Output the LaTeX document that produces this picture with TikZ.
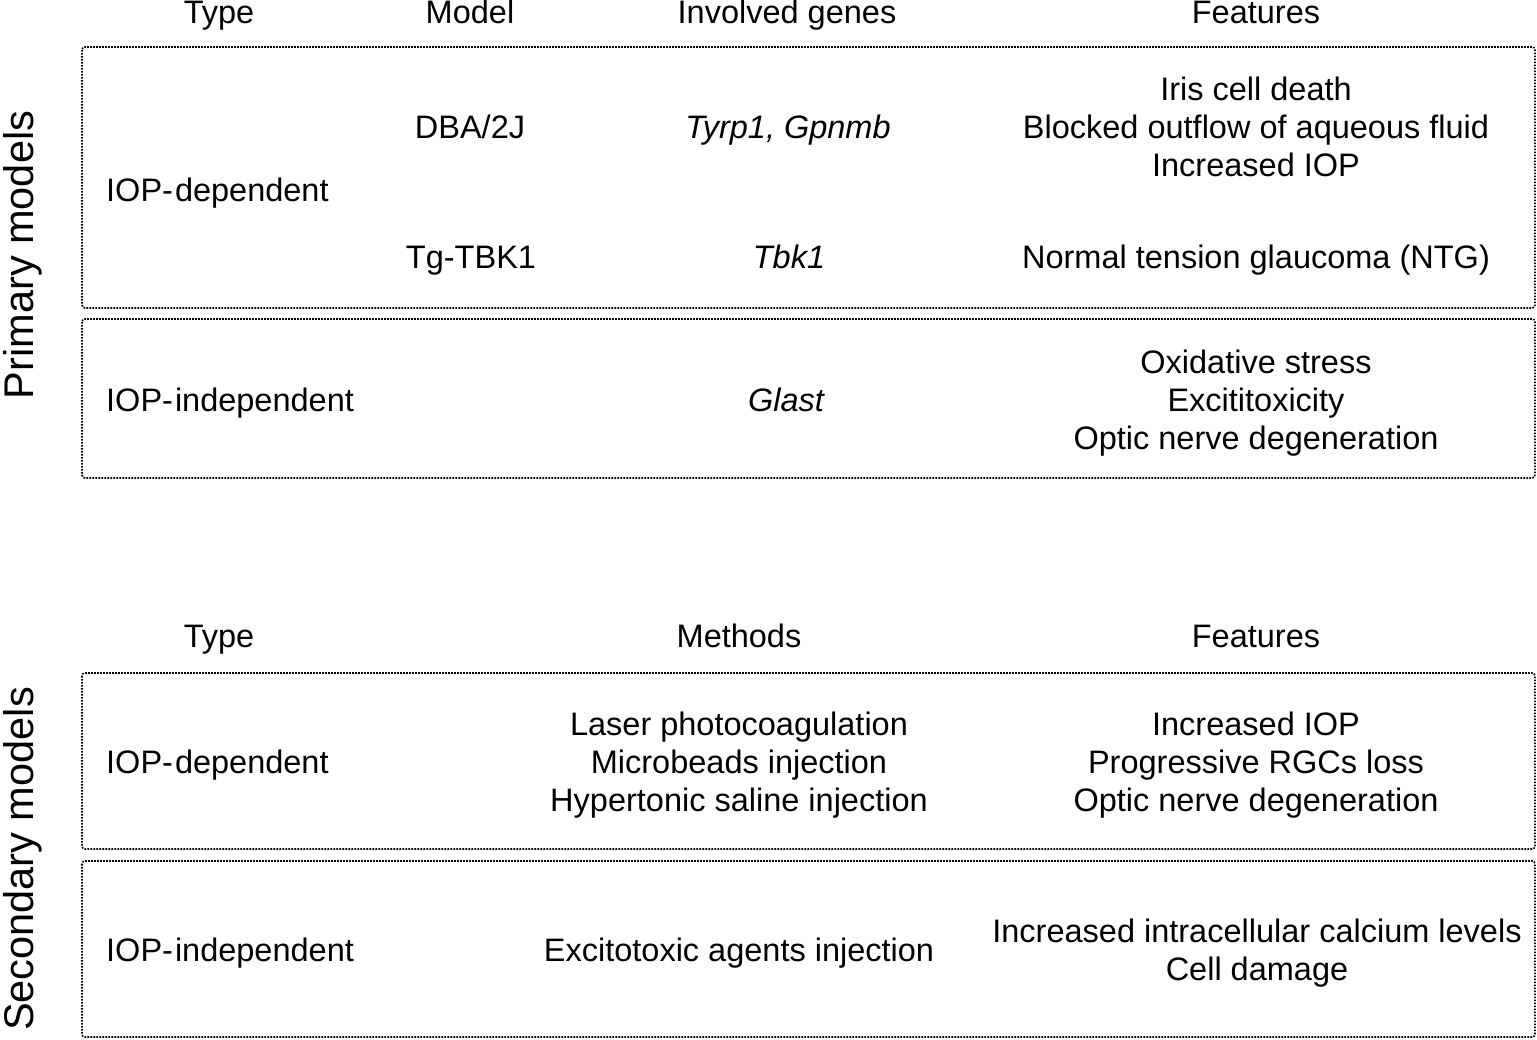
\documentclass[tikz,border=0pt]{standalone}
\usepackage{fontspec}
\setmainfont{Liberation Sans}
\begin{document}
\begin{tikzpicture}[x=1pt,y=-1pt,
  txt/.style={inner sep=0pt,anchor=base,font=\fontsize{32.5}{38}\selectfont},
  ltxt/.style={txt,anchor=base west},
  side/.style={inner sep=0pt,anchor=base,rotate=90,font=\fontsize{41.5}{48}\selectfont},
  dbox/.style={draw=black,line width=1.6pt,dash pattern=on 1.7pt off 1.3pt,rounded corners=3pt}]
\useasboundingbox (0,0) rectangle (1537,1039);
% boxes
\draw[dbox] (82,47) rectangle (1535,308);
\draw[dbox] (82,319) rectangle (1535,478);
\draw[dbox] (82,673) rectangle (1535,849);
\draw[dbox] (82,861) rectangle (1535,1037);
% side labels
\node[side] (prim) at (33,255) {Primary models};
\node[side] (sec) at (33,859) {Secondary models};
% header 1
\node[txt] (h1a) at (219,23) {Type};
\node[txt] (h1b) at (470,23) {Model};
\node[txt] (h1c) at (787,23) {Involved genes};
\node[txt] (h1d) at (1256,23) {Features};
% primary IOP-dependent
\node[ltxt] (p1t) at (106,201) {IOP-\kern2pt dependent};
\node[txt] (p1m) at (470,138) {DBA/2J};
\node[txt] (p1g) at (788,138) {\itshape Tyrp1, Gpnmb};
\node[txt] (p1f1) at (1256,100) {Iris cell death};
\node[txt] (p1f2) at (1256,138) {Blocked outflow of aqueous fluid};
\node[txt] (p1f3) at (1256,176) {Increased IOP};
\node[txt] (p2m) at (471,268) {Tg-TBK1};
\node[txt] (p2g) at (789,268) {\itshape Tbk1};
\node[txt] (p2f) at (1256,268) {Normal tension glaucoma (NTG)};
% primary IOP-independent
\node[ltxt] (p3t) at (106,411) {IOP-\kern2pt independent};
\node[txt] (p3g) at (786,411) {\itshape Glast};
\node[txt] (p3f1) at (1256,373) {Oxidative stress};
\node[txt] (p3f2) at (1256,411) {Excititoxicity};
\node[txt] (p3f3) at (1256,449) {Optic nerve degeneration};
% header 2
\node[txt] (h2a) at (219,647) {Type};
\node[txt] (h2b) at (739,647) {Methods};
\node[txt] (h2c) at (1256,647) {Features};
% secondary IOP-dependent
\node[ltxt] (s1t) at (106,773) {IOP-\kern2pt dependent};
\node[txt] (s1m1) at (739,735) {Laser photocoagulation};
\node[txt] (s1m2) at (739,773) {Microbeads injection};
\node[txt] (s1m3) at (739,811) {Hypertonic saline injection};
\node[txt] (s1f1) at (1256,735) {Increased IOP};
\node[txt] (s1f2) at (1256,773) {Progressive RGCs loss};
\node[txt] (s1f3) at (1256,811) {Optic nerve degeneration};
% secondary IOP-independent
\node[ltxt] (s2t) at (106,961) {IOP-\kern2pt independent};
\node[txt] (s2m) at (739,961) {Excitotoxic agents injection};
\node[txt] (s2f1) at (1257,942) {Increased intracellular calcium levels};
\node[txt] (s2f2) at (1257,980) {Cell damage};
\end{tikzpicture}
\end{document}
